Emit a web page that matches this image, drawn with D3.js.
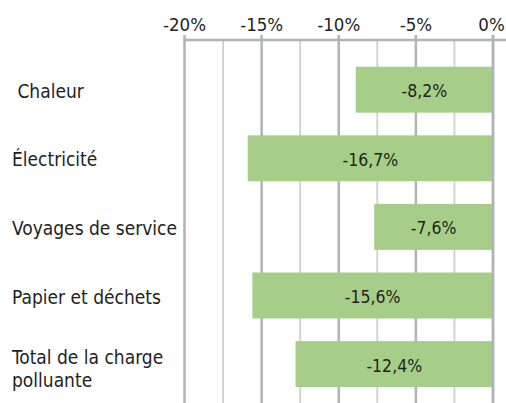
<!DOCTYPE html>
<html>
<head>
<meta charset="utf-8">
<script src="https://cdn.jsdelivr.net/npm/d3@7.9.0/dist/d3.min.js"></script>
<style>
  html, body { margin: 0; padding: 0; background: #fff; }
  svg text { font-family: "Liberation Sans Narrow", "Arial Narrow", "DejaVu Sans Condensed", sans-serif; fill: #231f20; white-space: pre; }
</style>
</head>
<body>
<svg id="chart" width="506" height="403"></svg>
<script>
// data
const categories = [" Chaleur", "Électricité", "Voyages de service", "Papier et déchets", "Total de la charge\npolluante"];
// bar lengths as drawn (they don't quite match the printed labels)
const barValues = [-8.9, -15.9, -7.7, -15.6, -12.8];
const valueLabels = ["-8,2%", "-16,7%", "-7,6%", "-15,6%", "-12,4%"];
const tickValues = [-20, -15, -10, -5, 0];
const tickLabels = ["-20%", "-15%", "-10%", "-5%", "0%"];

const svg = d3.select('#chart');
const axisY = 40;

let x = d3.scaleLinear().domain([-20, 0]).range([184.5, 493]);
let y = d3.scaleBand()
  .domain(categories)
  .range([55.4, 398.4])
  .paddingInner(0.33)
  .paddingOuter(0.165);

// grid: minor every 2.5%, major every 5%
const gridValues = d3.range(-20, 0.01, 2.5);
svg.append('g')
  .selectAll('line')
  .data(gridValues)
  .join('line')
  .attr('x1', d => x(d))
  .attr('x2', d => x(d))
  .attr('y1', d => (d % 5 === 0 ? axisY - 5 : axisY))
  .attr('y2', 403)
  .attr('stroke', d => (d % 5 === 0 ? '#b1b3b6' : '#cfd0d2'))
  .attr('stroke-width', d => (d % 5 === 0 ? 2.5 : 1.8));

// bars
svg.append('g')
  .selectAll('rect')
  .data(barValues)
  .join('rect')
  .attr('x', d => x(d))
  .attr('y', (d, i) => y(categories[i]))
  .attr('width', d => x(0) - x(d))
  .attr('height', y.bandwidth())
  .attr('fill', '#a6ce89');

// zero line on top of bars
svg.append('line')
  .attr('x1', x(0)).attr('x2', x(0))
  .attr('y1', axisY - 5).attr('y2', 403)
  .attr('stroke', '#b1b3b6')
  .attr('stroke-width', 2.5);

// top axis line
svg.append('line')
  .attr('x1', x(-20) - 1).attr('x2', 506)
  .attr('y1', axisY).attr('y2', axisY)
  .attr('stroke', '#b1b3b6')
  .attr('stroke-width', 2.5);

// tick labels
svg.append('g')
  .selectAll('text')
  .data(tickValues)
  .join('text')
  .attr('x', d => (d === 0 ? x(d) - 1.5 : x(d)))
  .attr('y', 30.5)
  .attr('text-anchor', 'middle')
  .attr('font-size', 18.5)
  .text((d, i) => tickLabels[i]);

// value labels
svg.append('g')
  .selectAll('text')
  .data(barValues)
  .join('text')
  .attr('x', d => (x(d) + x(0)) / 2)
  .attr('y', (d, i) => y(categories[i]) + y.bandwidth() / 2 + 7.5)
  .attr('text-anchor', 'middle')
  .attr('font-size', 17.5)
  .text((d, i) => valueLabels[i]);

// category labels (multi-line where needed)
let catG = svg.append('g');
categories.forEach((c) => {
  let lines = c.split('\n');
  let cy = y(c) + y.bandwidth() / 2;
  let t = catG.append('text').attr('font-size', 19);
  lines.forEach((ln, k) => {
    t.append('tspan')
      .attr('x', 12)
      .attr('y', lines.length > 1 ? cy - 0.5 + k * 23.4 : cy + 8)
      .text(ln);
  });
});
</script>
</body>
</html>
